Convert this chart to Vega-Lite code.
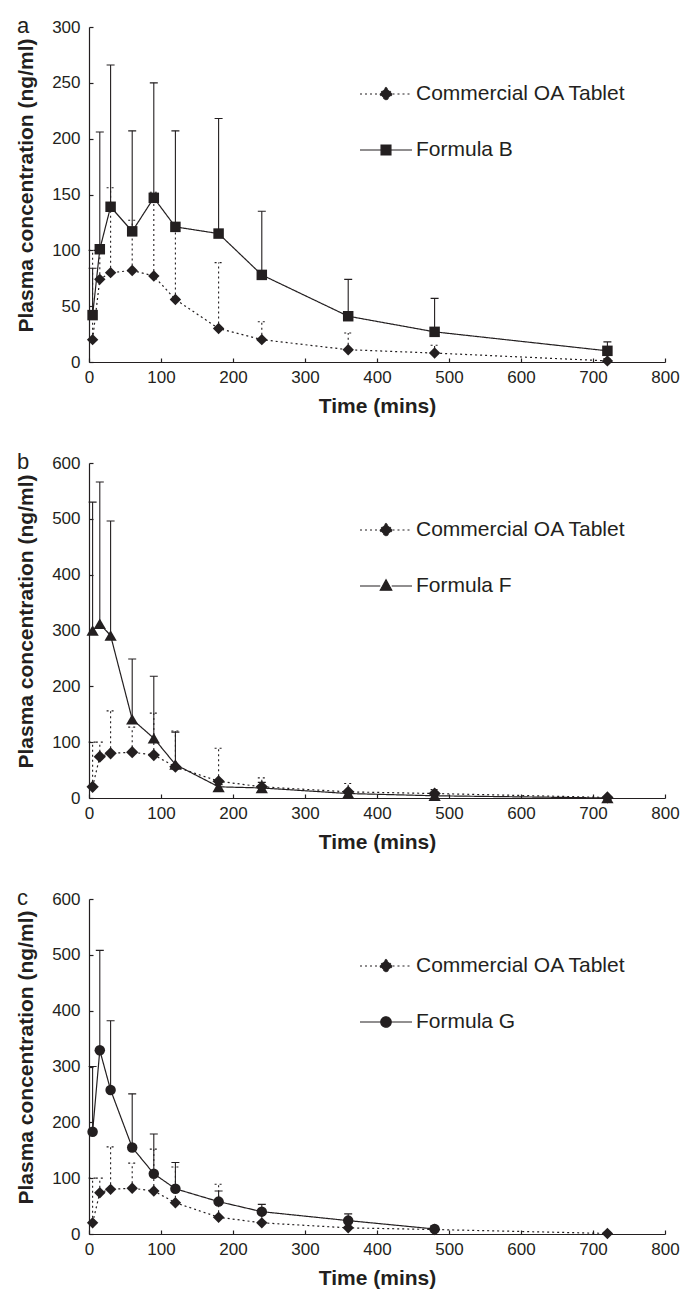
{
  "$schema": "https://vega.github.io/schema/vega-lite/v6.json",
  "background": "white",
  "padding": {"left": 15, "top": 15, "right": 10, "bottom": 5},
  "config": {
    "font": "Liberation Sans",
    "view": {"stroke": null},
    "axis": {
      "grid": false,
      "domainColor": "#231f20", "tickColor": "#231f20", "labelColor": "#231f20", "titleColor": "#231f20",
      "domainWidth": 1.2, "tickWidth": 1.2, "tickSize": -4,
      "labelFont": "Liberation Sans", "labelFontSize": 17,
      "titleFont": "Liberation Sans", "titleFontWeight": "bold"
    },
    "axisX": {"titleFontSize": 21, "labelPadding": 11, "titlePadding": 10, "labelFlush": false},
    "axisY": {"titleFontSize": 21, "labelPadding": 13, "titlePadding": 15, "labelFlush": false, "titleY": 158},
    "legend": {
      "orient": "none", "labelFontSize": 21, "labelColor": "#231f20", "labelFont": "Liberation Sans", "labelLimit": 400,
      "symbolSize": 2704, "symbolStrokeWidth": 1.2, "symbolFillColor": "#231f20", "symbolStrokeColor": "#231f20",
      "labelOffset": 3, "rowPadding": 4, "legendX": 270
    },
    "title": {"anchor": "start", "frame": "group", "fontSize": 22, "fontWeight": "normal", "color": "#231f20", "font": "Liberation Sans", "offset": 0, "dx": -72, "baseline": "alphabetic"}
  },
  "datasets": {
    "pk": [
      {"panel": "a", "series": "Commercial OA Tablet", "time": 5, "conc": 20, "upper": 100},
      {"panel": "a", "series": "Commercial OA Tablet", "time": 15, "conc": 74, "upper": 100},
      {"panel": "a", "series": "Commercial OA Tablet", "time": 30, "conc": 80, "upper": 156},
      {"panel": "a", "series": "Commercial OA Tablet", "time": 60, "conc": 82, "upper": 127},
      {"panel": "a", "series": "Commercial OA Tablet", "time": 90, "conc": 77, "upper": 152},
      {"panel": "a", "series": "Commercial OA Tablet", "time": 120, "conc": 56, "upper": 120},
      {"panel": "a", "series": "Commercial OA Tablet", "time": 180, "conc": 30, "upper": 89},
      {"panel": "a", "series": "Commercial OA Tablet", "time": 240, "conc": 20, "upper": 36},
      {"panel": "a", "series": "Commercial OA Tablet", "time": 360, "conc": 11, "upper": 26},
      {"panel": "a", "series": "Commercial OA Tablet", "time": 480, "conc": 8, "upper": 15},
      {"panel": "a", "series": "Commercial OA Tablet", "time": 720, "conc": 1, "upper": 3},
      {"panel": "a", "series": "Formula B", "time": 5, "conc": 42, "upper": 84},
      {"panel": "a", "series": "Formula B", "time": 15, "conc": 101, "upper": 206},
      {"panel": "a", "series": "Formula B", "time": 30, "conc": 139, "upper": 266},
      {"panel": "a", "series": "Formula B", "time": 60, "conc": 117, "upper": 207},
      {"panel": "a", "series": "Formula B", "time": 90, "conc": 147, "upper": 250},
      {"panel": "a", "series": "Formula B", "time": 120, "conc": 121, "upper": 207},
      {"panel": "a", "series": "Formula B", "time": 180, "conc": 115, "upper": 218},
      {"panel": "a", "series": "Formula B", "time": 240, "conc": 78, "upper": 135},
      {"panel": "a", "series": "Formula B", "time": 360, "conc": 41, "upper": 74},
      {"panel": "a", "series": "Formula B", "time": 480, "conc": 27, "upper": 57},
      {"panel": "a", "series": "Formula B", "time": 720, "conc": 10, "upper": 18},
      {"panel": "b", "series": "Commercial OA Tablet", "time": 5, "conc": 20, "upper": 100},
      {"panel": "b", "series": "Commercial OA Tablet", "time": 15, "conc": 74, "upper": 100},
      {"panel": "b", "series": "Commercial OA Tablet", "time": 30, "conc": 80, "upper": 156},
      {"panel": "b", "series": "Commercial OA Tablet", "time": 60, "conc": 82, "upper": 127},
      {"panel": "b", "series": "Commercial OA Tablet", "time": 90, "conc": 77, "upper": 152},
      {"panel": "b", "series": "Commercial OA Tablet", "time": 120, "conc": 56, "upper": 120},
      {"panel": "b", "series": "Commercial OA Tablet", "time": 180, "conc": 30, "upper": 89},
      {"panel": "b", "series": "Commercial OA Tablet", "time": 240, "conc": 20, "upper": 36},
      {"panel": "b", "series": "Commercial OA Tablet", "time": 360, "conc": 11, "upper": 26},
      {"panel": "b", "series": "Commercial OA Tablet", "time": 480, "conc": 8, "upper": 15},
      {"panel": "b", "series": "Commercial OA Tablet", "time": 720, "conc": 1, "upper": 3},
      {"panel": "b", "series": "Formula F", "time": 5, "conc": 300, "upper": 530},
      {"panel": "b", "series": "Formula F", "time": 15, "conc": 312, "upper": 566},
      {"panel": "b", "series": "Formula F", "time": 30, "conc": 291, "upper": 496},
      {"panel": "b", "series": "Formula F", "time": 60, "conc": 141, "upper": 249},
      {"panel": "b", "series": "Formula F", "time": 90, "conc": 107, "upper": 218},
      {"panel": "b", "series": "Formula F", "time": 120, "conc": 60, "upper": 118},
      {"panel": "b", "series": "Formula F", "time": 180, "conc": 20, "upper": 24},
      {"panel": "b", "series": "Formula F", "time": 240, "conc": 18, "upper": 28},
      {"panel": "b", "series": "Formula F", "time": 360, "conc": 8, "upper": 12},
      {"panel": "b", "series": "Formula F", "time": 480, "conc": 4, "upper": 8},
      {"panel": "b", "series": "Formula F", "time": 720, "conc": 0, "upper": 1},
      {"panel": "c", "series": "Commercial OA Tablet", "time": 5, "conc": 20, "upper": 100},
      {"panel": "c", "series": "Commercial OA Tablet", "time": 15, "conc": 74, "upper": 100},
      {"panel": "c", "series": "Commercial OA Tablet", "time": 30, "conc": 80, "upper": 156},
      {"panel": "c", "series": "Commercial OA Tablet", "time": 60, "conc": 82, "upper": 127},
      {"panel": "c", "series": "Commercial OA Tablet", "time": 90, "conc": 77, "upper": 152},
      {"panel": "c", "series": "Commercial OA Tablet", "time": 120, "conc": 56, "upper": 120},
      {"panel": "c", "series": "Commercial OA Tablet", "time": 180, "conc": 30, "upper": 89},
      {"panel": "c", "series": "Commercial OA Tablet", "time": 240, "conc": 20, "upper": 36},
      {"panel": "c", "series": "Commercial OA Tablet", "time": 360, "conc": 11, "upper": 26},
      {"panel": "c", "series": "Commercial OA Tablet", "time": 480, "conc": 8, "upper": 15},
      {"panel": "c", "series": "Commercial OA Tablet", "time": 720, "conc": 1, "upper": 3},
      {"panel": "c", "series": "Formula G", "time": 5, "conc": 183, "upper": 300},
      {"panel": "c", "series": "Formula G", "time": 15, "conc": 329, "upper": 508},
      {"panel": "c", "series": "Formula G", "time": 30, "conc": 258, "upper": 382},
      {"panel": "c", "series": "Formula G", "time": 60, "conc": 155, "upper": 251},
      {"panel": "c", "series": "Formula G", "time": 90, "conc": 108, "upper": 179},
      {"panel": "c", "series": "Formula G", "time": 120, "conc": 81, "upper": 128},
      {"panel": "c", "series": "Formula G", "time": 180, "conc": 58, "upper": 77},
      {"panel": "c", "series": "Formula G", "time": 240, "conc": 40, "upper": 53},
      {"panel": "c", "series": "Formula G", "time": 360, "conc": 24, "upper": 36},
      {"panel": "c", "series": "Formula G", "time": 480, "conc": 9, "upper": 12}
    ]
  },
  "bounds": "flush",
  "spacing": 101,
  "resolve": {
    "scale": {"shape": "independent", "strokeDash": "independent", "size": "independent", "opacity": "independent"},
    "legend": {"shape": "independent", "strokeDash": "independent", "size": "independent", "opacity": "independent"}
  },
  "vconcat": [
    {
      "width": 576, "height": 335,
      "title": {"text": "a", "dy": 24},
      "data": {"name": "pk"},
      "transform": [{"filter": "datum.panel === 'a'"}],
      "encoding": {
        "x": {"field": "time", "type": "quantitative", "scale": {"domain": [0, 800], "nice": false}, "axis": {"title": "Time (mins)", "values": [0, 100, 200, 300, 400, 500, 600, 700, 800]}},
        "y": {"field": "conc", "type": "quantitative", "scale": {"domain": [0, 300], "nice": false}, "axis": {"title": "Plasma concentration (ng/ml)", "values": [0, 50, 100, 150, 200, 250, 300]}}
      },
      "layer": [
        {"mark": {"type": "line", "color": "#231f20", "strokeWidth": 1.2},
         "encoding": {"strokeDash": {"field": "series", "type": "nominal", "scale": {"domain": ["Commercial OA Tablet", "Formula B"], "range": [[2, 3], [1, 0]]},
           "legend": {"title": null, "values": ["Commercial OA Tablet"], "legendY": 40, "symbolType": "M-1,0L-0.25,0M0,-0.25L0.25,0L0,0.25L-0.25,0ZM0.25,0L1,0"}}}},
        {"mark": {"type": "rule", "color": "#231f20", "strokeWidth": 1.1},
         "encoding": {"y2": {"field": "upper"}, "strokeDash": {"field": "series", "type": "nominal", "legend": null},
           "opacity": {"field": "series", "type": "nominal", "scale": {"domain": ["Formula B", "Commercial OA Tablet", "z"], "range": [1, 1, 1]},
             "legend": {"title": null, "values": ["Formula B"], "legendY": 96, "symbolDash": [1, 0], "symbolType": "M-1,0L-0.19,0M-0.19,-0.19L0.19,-0.19L0.19,0.19L-0.19,0.19ZM0.19,0L1,0"}}}},
        {"mark": {"type": "rule", "color": "#231f20", "strokeWidth": 1.1, "xOffset": -4, "x2Offset": 4},
         "encoding": {"y": {"field": "upper", "type": "quantitative", "title": "Plasma concentration (ng/ml)"}, "x2": {"field": "time"}, "strokeDash": {"field": "series", "type": "nominal", "legend": null}}},
        {"mark": {"type": "point", "filled": true, "opacity": 1, "color": "#231f20", "strokeWidth": 0},
         "encoding": {"shape": {"field": "series", "type": "nominal", "scale": {"domain": ["Formula B", "Commercial OA Tablet"], "range": ["square", "diamond"]}, "legend": null},
                      "size": {"field": "series", "type": "nominal", "scale": {"domain": ["Formula B", "Commercial OA Tablet", "x"], "range": [110, 150, 100]}, "legend": null}}}
      ]
    },
    {
      "width": 576, "height": 335,
      "title": {"text": "b", "dy": 24},
      "data": {"name": "pk"},
      "transform": [{"filter": "datum.panel === 'b'"}],
      "encoding": {
        "x": {"field": "time", "type": "quantitative", "scale": {"domain": [0, 800], "nice": false}, "axis": {"title": "Time (mins)", "values": [0, 100, 200, 300, 400, 500, 600, 700, 800]}},
        "y": {"field": "conc", "type": "quantitative", "scale": {"domain": [0, 600], "nice": false}, "axis": {"title": "Plasma concentration (ng/ml)", "values": [0, 100, 200, 300, 400, 500, 600]}}
      },
      "layer": [
        {"mark": {"type": "line", "color": "#231f20", "strokeWidth": 1.2},
         "encoding": {"strokeDash": {"field": "series", "type": "nominal", "scale": {"domain": ["Commercial OA Tablet", "Formula F"], "range": [[2, 3], [1, 0]]},
           "legend": {"title": null, "values": ["Commercial OA Tablet"], "legendY": 40, "symbolType": "M-1,0L-0.25,0M0,-0.25L0.25,0L0,0.25L-0.25,0ZM0.25,0L1,0"}}}},
        {"mark": {"type": "rule", "color": "#231f20", "strokeWidth": 1.1},
         "encoding": {"y2": {"field": "upper"}, "strokeDash": {"field": "series", "type": "nominal", "legend": null},
           "opacity": {"field": "series", "type": "nominal", "scale": {"domain": ["Formula F", "Commercial OA Tablet", "z"], "range": [1, 1, 1]},
             "legend": {"title": null, "values": ["Formula F"], "legendY": 96, "symbolDash": [1, 0], "symbolType": "M-1,0L-0.22,0M0,-0.24L0.22,0.16L-0.22,0.16ZM0.22,0L1,0"}}}},
        {"mark": {"type": "rule", "color": "#231f20", "strokeWidth": 1.1, "xOffset": -4, "x2Offset": 4},
         "encoding": {"y": {"field": "upper", "type": "quantitative", "title": "Plasma concentration (ng/ml)"}, "x2": {"field": "time"}, "strokeDash": {"field": "series", "type": "nominal", "legend": null}}},
        {"mark": {"type": "point", "filled": true, "opacity": 1, "color": "#231f20", "strokeWidth": 0},
         "encoding": {"shape": {"field": "series", "type": "nominal", "scale": {"domain": ["Formula F", "Commercial OA Tablet"], "range": ["triangle-up", "diamond"]}, "legend": null},
                      "size": {"field": "series", "type": "nominal", "scale": {"domain": ["Formula F", "Commercial OA Tablet", "x"], "range": [150, 150, 100]}, "legend": null}}}
      ]
    },
    {
      "width": 576, "height": 335,
      "title": {"text": "c", "dy": 24},
      "data": {"name": "pk"},
      "transform": [{"filter": "datum.panel === 'c'"}],
      "encoding": {
        "x": {"field": "time", "type": "quantitative", "scale": {"domain": [0, 800], "nice": false}, "axis": {"title": "Time (mins)", "values": [0, 100, 200, 300, 400, 500, 600, 700, 800]}},
        "y": {"field": "conc", "type": "quantitative", "scale": {"domain": [0, 600], "nice": false}, "axis": {"title": "Plasma concentration (ng/ml)", "values": [0, 100, 200, 300, 400, 500, 600]}}
      },
      "layer": [
        {"mark": {"type": "line", "color": "#231f20", "strokeWidth": 1.2},
         "encoding": {"strokeDash": {"field": "series", "type": "nominal", "scale": {"domain": ["Commercial OA Tablet", "Formula G"], "range": [[2, 3], [1, 0]]},
           "legend": {"title": null, "values": ["Commercial OA Tablet"], "legendY": 40, "symbolType": "M-1,0L-0.25,0M0,-0.25L0.25,0L0,0.25L-0.25,0ZM0.25,0L1,0"}}}},
        {"mark": {"type": "rule", "color": "#231f20", "strokeWidth": 1.1},
         "encoding": {"y2": {"field": "upper"}, "strokeDash": {"field": "series", "type": "nominal", "legend": null},
           "opacity": {"field": "series", "type": "nominal", "scale": {"domain": ["Formula G", "Commercial OA Tablet", "z"], "range": [1, 1, 1]},
             "legend": {"title": null, "values": ["Formula G"], "legendY": 96, "symbolDash": [1, 0], "symbolType": "M-1,0L-0.2,0M-0.2,0A0.2,0.2 0 1,0 0.2,0A0.2,0.2 0 1,0 -0.2,0ZM0.2,0L1,0"}}}},
        {"mark": {"type": "rule", "color": "#231f20", "strokeWidth": 1.1, "xOffset": -4, "x2Offset": 4},
         "encoding": {"y": {"field": "upper", "type": "quantitative", "title": "Plasma concentration (ng/ml)"}, "x2": {"field": "time"}, "strokeDash": {"field": "series", "type": "nominal", "legend": null}}},
        {"mark": {"type": "point", "filled": true, "opacity": 1, "color": "#231f20", "strokeWidth": 0},
         "encoding": {"shape": {"field": "series", "type": "nominal", "scale": {"domain": ["Formula G", "Commercial OA Tablet"], "range": ["circle", "diamond"]}, "legend": null},
                      "size": {"field": "series", "type": "nominal", "scale": {"domain": ["Formula G", "Commercial OA Tablet", "x"], "range": [110, 150, 100]}, "legend": null}}}
      ]
    }
  ]
}
